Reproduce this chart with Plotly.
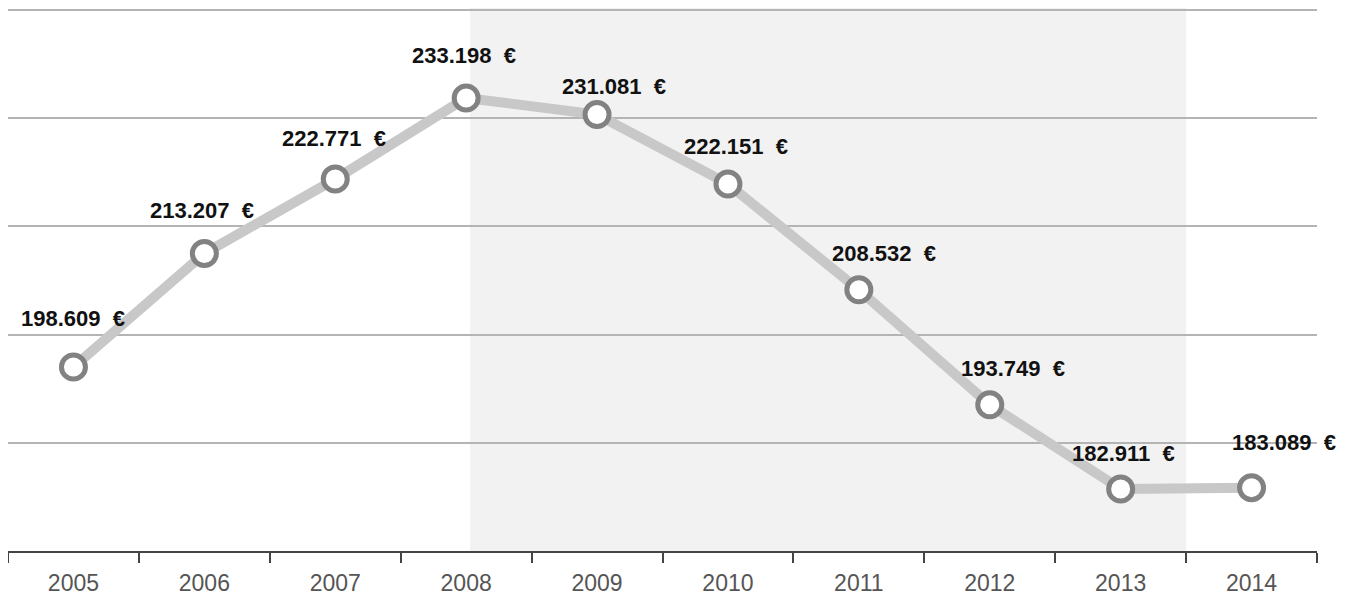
import plotly.graph_objects as go

years = ["2005", "2006", "2007", "2008", "2009", "2010", "2011", "2012", "2013", "2014"]
values = [198609, 213207, 222771, 233198, 231081, 222151, 208532, 193749, 182911, 183089]
labels = ["198.609  €", "213.207  €", "222.771  €", "233.198  €", "231.081  €",
          "222.151  €", "208.532  €", "193.749  €", "182.911  €", "183.089  €"]

# small per-label nudges so the values sit where the original put them
label_dx = [0, -2, -1, -2, 17, 8, 25, 23, 3, 32]
label_dy = [48, 43, 41, 43, 28, 37, 36, 36, 36, 45]

y_lo, y_hi = 174940, 244515
step = (y_hi - y_lo) / 5

fig = go.Figure()
fig.add_trace(go.Scatter(
    x=list(range(len(years))), y=values, mode="lines+markers",
    line=dict(color="#c8c8c8", width=10),
    marker=dict(size=24, color="white", line=dict(color="#828282", width=5)),
    cliponaxis=False, hoverinfo="skip",
))

for i, (v, t, dx, dy) in enumerate(zip(values, labels, label_dx, label_dy)):
    fig.add_annotation(
        x=i, y=v, xref="x", yref="y", text=t, showarrow=False, xshift=dx, yshift=dy,
        font=dict(family="Liberation Sans Narrow, Liberation Sans, Arial", size=22,
                  color="#111111", weight="bold"),
    )

fig.add_shape(type="rect", xref="x", yref="paper", x0=3.03, x1=8.5, y0=0, y1=1,
              fillcolor="#f2f2f2", line_width=0, layer="below")

fig.update_layout(
    width=1351, height=600,
    margin=dict(l=0, r=42, t=0, b=57),
    plot_bgcolor="white", paper_bgcolor="white",
    showlegend=False,
    font=dict(family="Liberation Sans, Arial", size=20, color="#555555"),
)
fig.update_xaxes(
    range=[-0.5, 9.5], showgrid=False, zeroline=False,
    tickmode="array", tickvals=list(range(len(years))), ticktext=years, ticks="",
    showline=True, linecolor="#444444", linewidth=2, ticklabelstandoff=10,
    tickfont=dict(size=23, color="#555555"),
    minor=dict(tickmode="array", tickvals=[i - 0.5 for i in range(len(years) + 1)],
               ticks="outside", ticklen=10, tickwidth=2, tickcolor="#444444", showgrid=False),
)
fig.update_yaxes(
    range=[y_lo, y_hi + 260], tick0=y_lo, dtick=step,
    showgrid=True, gridcolor="#b4b4b4", gridwidth=2,
    showticklabels=False, zeroline=False, showline=False,
)

fig.write_html("out.html")
